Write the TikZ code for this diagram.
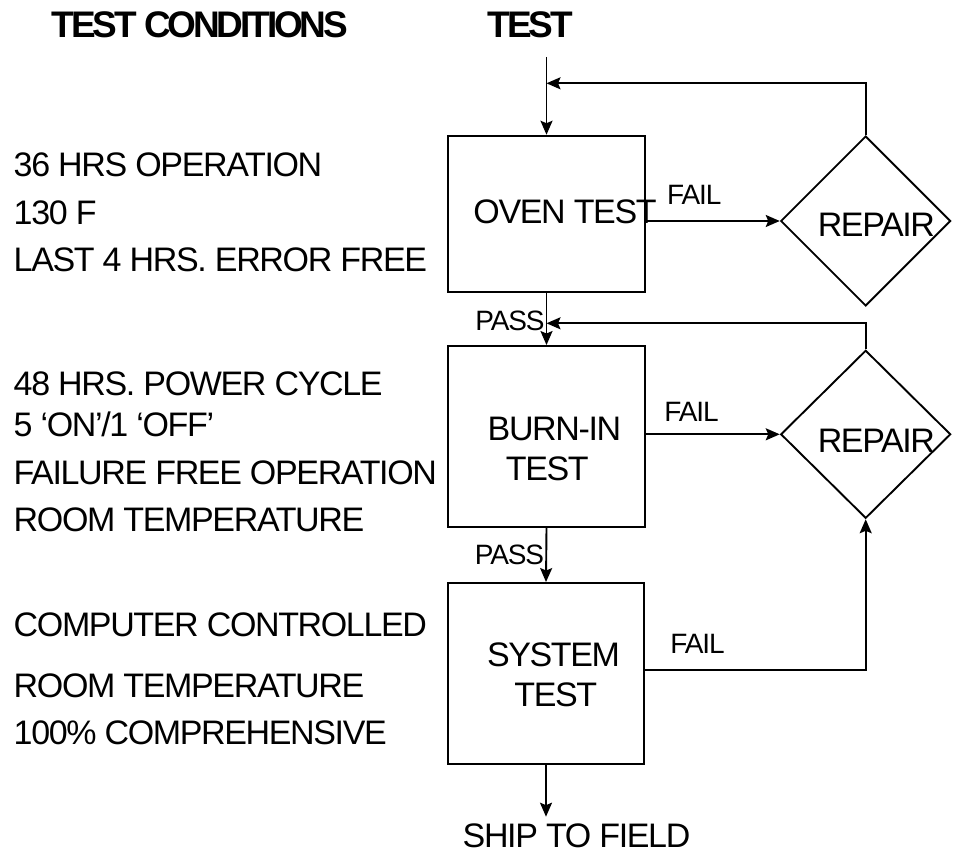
\documentclass[tikz,border=0pt]{standalone}
\usepackage{fontspec}
\setmainfont[LetterSpace=-4]{Liberation Sans}
\newfontfamily\hdrfont[LetterSpace=-8.5]{Liberation Sans}
\usetikzlibrary{shapes.geometric,arrows.meta}
\begin{document}
\begin{tikzpicture}[x=1pt,y=-1pt,
  arr/.style={line width=1.9pt,-{Stealth[length=14pt,width=12pt,inset=2.5pt]}},
  box/.style={draw,line width=1.9pt,inner sep=0pt},
  dia/.style={draw,diamond,line width=1.9pt,inner sep=0pt,aspect=1},
  txt/.style={font=\fontsize{34}{40}\selectfont,inner sep=0pt},
  lbl/.style={font=\fontsize{28}{32}\selectfont,inner sep=0pt},
  hdr/.style={font=\hdrfont\fontsize{37}{42}\selectfont\bfseries,inner sep=0pt}]
\useasboundingbox (0,0) rectangle (959,856);
% headers
\node[hdr,anchor=base] (h1) at (200,37.3) {TEST CONDITIONS};
\node[hdr,anchor=base] (h2) at (530.5,37.3) {TEST};
% boxes
\node[box,minimum width=197pt,minimum height=156pt] (oven) at (546.5,213.7) {};
\node[box,minimum width=197pt,minimum height=180.7pt] (burn) at (546.5,436.35) {};
\node[box,minimum width=196pt,minimum height=181pt] (sys) at (546,673.5) {};
\node[dia,minimum width=170pt,minimum height=170pt] (rep1) at (865.7,221) {};
\node[dia,minimum width=170pt,minimum height=168pt] (rep2) at (865.7,434.3) {};
% box texts
\node[txt,anchor=base] (t1) at (565,223.3) {OVEN TEST};
\node[txt,anchor=base] (t2) at (876.4,236) {REPAIR};
\node[txt,anchor=base] (t3) at (876.4,452.3) {REPAIR};
\node[txt,anchor=base] (t4) at (554.4,440) {BURN-IN};
\node[txt,anchor=base] (t5) at (547.3,480.7) {TEST};
\node[txt,anchor=base] (t6) at (553.5,666) {SYSTEM};
\node[txt,anchor=base] (t7) at (555.8,706.7) {TEST};
\node[txt,anchor=base] (ship) at (576.5,847.3) {SHIP TO FIELD};
% labels
\node[lbl,anchor=base] (f1) at (694.3,204.3) {FAIL};
\node[lbl,anchor=base] (f2) at (691.5,421.7) {FAIL};
\node[lbl,anchor=base] (f3) at (697.5,653.3) {FAIL};
\node[lbl,anchor=base] (p1) at (510,330) {PASS};
\node[lbl,anchor=base] (p2) at (509.5,564) {PASS};
% conditions
\node[txt,anchor=base west] (c1) at (13.5,176.7) {36 HRS OPERATION};
\node[txt,anchor=base west] (c2) at (13.5,225) {130 F};
\node[txt,anchor=base west] (c3) at (13.5,271.7) {LAST 4 HRS. ERROR FREE};
\node[txt,anchor=base west] (c4) at (13.5,395) {48 HRS. POWER CYCLE};
\node[txt,anchor=base west] (c5) at (13.5,436.7) {5 ‘ON’/1 ‘OFF’};
\node[txt,anchor=base west] (c6) at (13.5,484) {FAILURE FREE OPERATION};
\node[txt,anchor=base west] (c7) at (13.5,531.7) {ROOM TEMPERATURE};
\node[txt,anchor=base west] (c8) at (13.5,636) {COMPUTER CONTROLLED};
\node[txt,anchor=base west] (c9) at (13.5,697) {ROOM TEMPERATURE};
\node[txt,anchor=base west] (c10) at (13.5,744) {100\% COMPREHENSIVE};
% connectors
\coordinate (top) at (546.5,57);
\coordinate (j1) at (546.5,83.3);
\coordinate (j2) at (546.5,323.3);
\coordinate (shipin) at (546,816.7);
\draw[arr] (top) -- (oven.north);
\draw[arr] (rep1.north) |- (j1);
\draw[arr] (rep2.north) |- (j2);
\draw[arr] (oven.south) -- (burn.north);
\draw[arr] (burn.south) -- (sys.north);
\draw[arr] (sys.south) -- (shipin);
\draw[arr] (oven.east |- rep1.west) -- (rep1.west);
\draw[arr] (burn.east |- rep2.west) -- (rep2.west);
\draw[arr] (sys.east |- 0,670) -| (rep2.south);
\end{tikzpicture}
\end{document}
